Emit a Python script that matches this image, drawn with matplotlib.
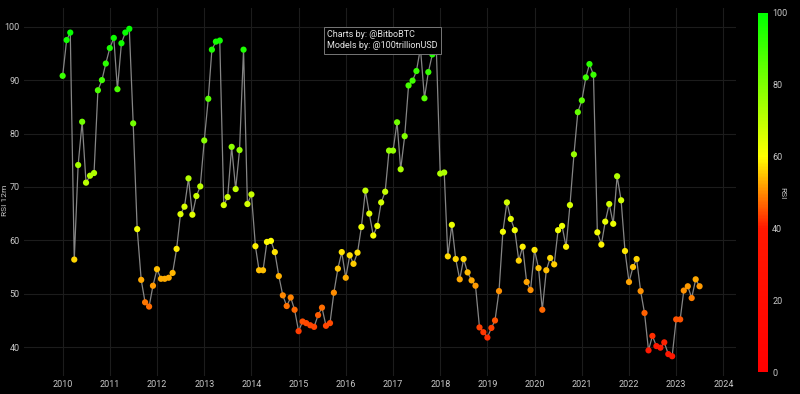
import pandas as pd
import matplotlib.pyplot as plt
import matplotlib.dates as mdates
from matplotlib.colors import LinearSegmentedColormap, Normalize

# monthly RSI (12m), one list per year
rsi_2010 = [90.8, 97.5, 98.9, 56.4, 74.1, 82.2, 70.8, 72.1, 72.6, 88.1, 90.0, 93.1]
rsi_2011 = [96.0, 97.9, 88.3, 96.9, 98.9, 99.6, 81.9, 62.1, 52.6, 48.4, 47.6, 51.5]
rsi_2012 = [54.6, 52.8, 52.8, 53.0, 53.9, 58.4, 64.9, 66.3, 71.6, 64.8, 68.3, 70.1]
rsi_2013 = [78.7, 86.5, 95.7, 97.2, 97.4, 66.6, 68.1, 77.5, 69.6, 76.9, 95.7, 66.8]
rsi_2014 = [68.6, 58.9, 54.4, 54.4, 59.7, 59.9, 57.8, 53.3, 49.7, 47.7, 49.3, 47.0]
rsi_2015 = [43.0, 44.8, 44.5, 44.1, 43.8, 46.0, 47.4, 44.0, 44.5, 50.2, 54.7, 57.8]
rsi_2016 = [53.0, 57.2, 55.6, 57.7, 62.5, 69.3, 65.0, 60.9, 62.7, 67.1, 69.1, 76.8]
rsi_2017 = [76.8, 82.1, 73.3, 79.5, 89.0, 89.9, 91.7, 96.0, 86.6, 91.5, 94.8, 96.6]
rsi_2018 = [72.5, 72.7, 57.0, 62.9, 56.5, 52.7, 56.5, 54.0, 52.5, 51.5, 43.7, 42.8]
rsi_2019 = [41.8, 43.6, 45.0, 50.5, 61.6, 67.1, 64.0, 61.9, 56.2, 58.8, 52.2, 50.7]
rsi_2020 = [58.2, 54.8, 47.0, 54.4, 56.7, 55.5, 61.9, 62.7, 58.8, 66.6, 76.1, 84.0]
rsi_2021 = [86.2, 90.5, 93.0, 91.0, 61.5, 59.2, 63.5, 66.8, 63.1, 72.0, 67.5, 58.0]
rsi_2022 = [52.2, 55.0, 56.5, 50.5, 46.4, 39.4, 42.1, 40.2, 39.9, 40.9, 38.7, 38.3]
rsi_2023 = [45.2, 45.2, 50.6, 51.4, 49.2, 52.7, 51.4]

rsi = (rsi_2010 + rsi_2011 + rsi_2012 + rsi_2013 + rsi_2014 + rsi_2015 + rsi_2016
       + rsi_2017 + rsi_2018 + rsi_2019 + rsi_2020 + rsi_2021 + rsi_2022 + rsi_2023)
dates = pd.date_range('2010-01-01', periods=len(rsi), freq='MS')
years = list(range(2010, 2025))

plt.rcParams['font.family'] = ['Roboto', 'DejaVu Sans']

cmap = LinearSegmentedColormap.from_list('rsi', [
    (0.0, '#ff0000'), (0.4, '#ff1800'), (0.5, '#ff8a00'),
    (0.6, '#ffff00'), (1.0, '#00ff00')])
norm = Normalize(0, 100)

fig = plt.figure(figsize=(8, 3.94), dpi=100, facecolor='black')
ax = fig.add_axes([24 / 800, 18 / 394, 712 / 800, 368 / 394])
ax.set_facecolor('black')

ax.plot(dates, rsi, color='#858585', lw=0.9, zorder=2)
sc = ax.scatter(dates, rsi, c=rsi, cmap=cmap, norm=norm, s=20, linewidths=0, zorder=3)

ax.set_ylim(34.6, 103.5)
ax.set_xlim(pd.Timestamp('2009-03-08'), pd.Timestamp('2024-04-08'))
ax.set_yticks(range(40, 101, 10))
ax.set_xticks([pd.Timestamp(f'{y}-01-01') for y in years])
ax.xaxis.set_major_formatter(mdates.DateFormatter('%Y'))
ax.grid(True, color='#1c1c1c', lw=0.8)
ax.set_axisbelow(True)
for s in ax.spines.values():
    s.set_visible(False)
ax.tick_params(colors='#c8c8c8', labelsize=6.5, length=0, pad=3)
fig.text(5 / 800, 1 - 200 / 394, 'RSI 12m', color='#c8c8c8', fontsize=6,
         rotation=90, ha='center', va='center')

# colour bar
cax = fig.add_axes([758 / 800, 22 / 394, 10 / 800, 359 / 394])
cb = fig.colorbar(sc, cax=cax)
cb.outline.set_visible(False)
cb.set_ticks(range(0, 101, 20))
cax.tick_params(colors='#c8c8c8', labelsize=6.5, length=0, pad=3)
fig.text(782 / 800, 1 - 193 / 394, 'RSI', color='#c8c8c8', fontsize=6,
         rotation=270, ha='center', va='center')

fig.text(327 / 800, 1 - 30 / 394, 'Charts by: @BitboBTC\nModels by: @100trillionUSD',
         color='#e6e6e6', fontsize=6.5, va='top', ha='left', linespacing=1.35,
         bbox=dict(facecolor='black', edgecolor='#777777', lw=0.7,
                   boxstyle='square,pad=0.35'))

fig.savefig('out.png', facecolor='black')
